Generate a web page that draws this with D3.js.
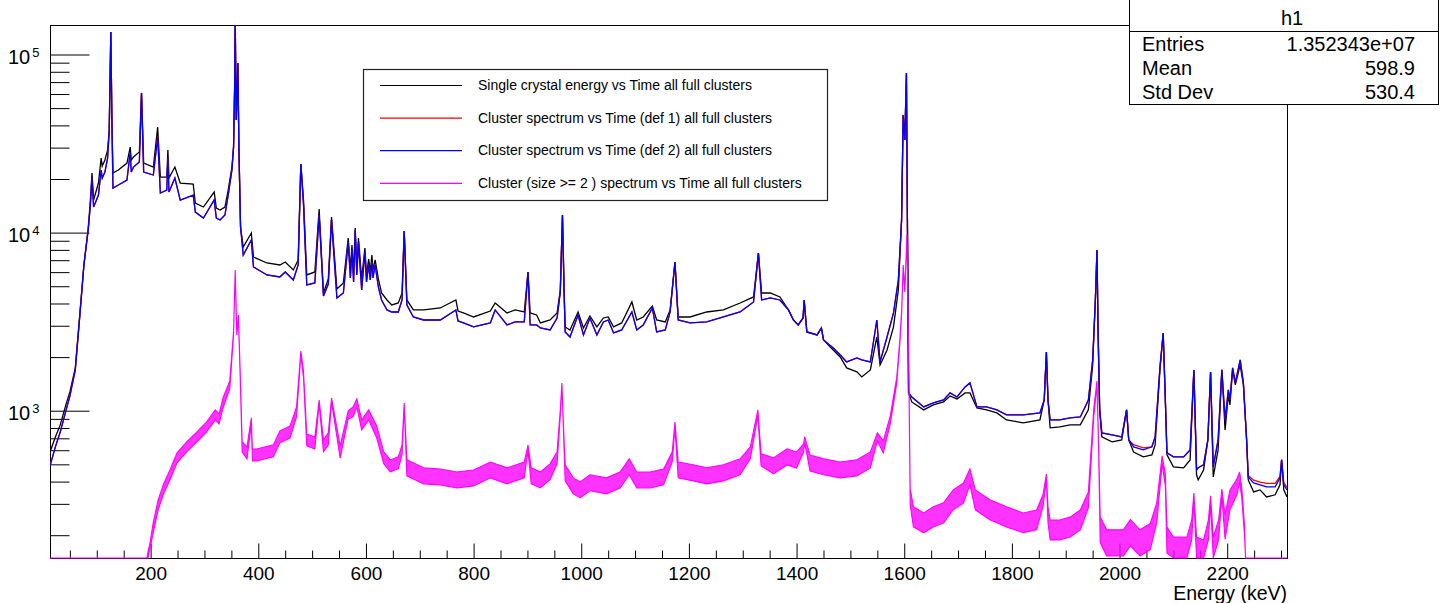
<!DOCTYPE html>
<html>
<head>
<meta charset="utf-8">
<script src="https://cdn.jsdelivr.net/npm/d3@7"></script>
<style>
  body { margin: 0; background: #fff; }
  svg text { font-family: "Liberation Sans", Arial, Helvetica, sans-serif; }
</style>
</head>
<body>
<div id="chart"></div>
<script>
// energy bins (keV) shared by the three full-cluster spectra
var energy = [
  14,24,33,44,51,61,70,77,85,89,
  92,95,104,109,111,116,121,124,127,129,
  131,141,157,163,165,169,180,184,188,206,
  214,219,231,233,235,246,256,280,284,299,
  319,323,330,339,345,352,355,357,358,360,
  363,365,368,373,388,392,417,441,451,466,
  475,480,485,491,506,514,522,531,537,547,
  559,568,572,575,578,581,584,587,593,599,
  602,606,609,612,614,618,624,630,640,649,
  661,668,672,677,689,708,739,768,772,782,
  801,832,841,863,878,895,902,906,918,925,
  943,956,962,966,969,971,980,995,1005,1017,
  1030,1042,1051,1061,1076,1095,1104,1116,1133,1141,
  1157,1166,1175,1181,1203,1234,1265,1296,1321,1330,
  1336,1352,1370,1386,1395,1404,1413,1415,1420,1439,
  1447,1451,1469,1482,1494,1513,1522,1538,1550,1556,
  1569,1581,1590,1596,1599,1602,1605,1609,1615,1637,
  1655,1674,1686,1699,1714,1723,1736,1754,1773,1791,
  1822,1853,1861,1865,1868,1872,1890,1909,1928,1943,
  1951,1956,1959,1961,1964,1968,1987,2005,2014,2018,
  2027,2045,2061,2067,2076,2082,2086,2089,2101,2120,
  2132,2139,2144,2147,2157,2165,2170,2175,2184,2191,
  2197,2203,2206,2211,2216,2225,2231,2237,2240,2250,
  2262,2274,2290,2299,2302,2306,2312
];

// Single crystal energy vs Time (black)
var singleCrystal = [
  583,708,827,1085,1267,1728,3655,6540,10540,15140,
  21470,15140,18860,26050,23490,25390,28890,37410,132700,42570,
  21470,22310,24420,30030,25390,26390,28150,60340,24420,23190,
  38890,20380,20380,28890,20120,23190,18860,18620,14570,13830,
  16790,13650,13300,13830,17230,23190,30030,65200,160000,42570,
  88900,28890,10680,8250,9885,7250,6710,6540,6797,6130,
  6975,24110,15140,5746,5974,13480,4552,5456,12150,4794,
  5181,9266,6130,8466,5746,10540,6130,9266,5456,8145,
  5746,7066,5974,7440,6130,6975,5456,4552,4159,3898,
  4000,4552,10140,4159,3655,3655,3750,4159,3607,3516,
  3338,3607,4000,3516,3655,3561,5974,3516,3426,3090,
  3211,3516,4732,12470,4732,2935,2822,3561,2896,3382,
  2935,3296,3338,2935,3090,4053,3211,3338,3848,3211,
  3130,3655,6797,3338,3338,3561,3655,4000,4324,7633,
  4552,4552,4324,3655,3211,3011,3296,4159,2750,2646,
  2896,2480,2180,1991,1728,1641,1538,1684,2578,1796,
  2180,2935,4732,11690,45400,32880,78100,1251,1113,1004,
  1071,1113,1203,1157,1251,1251,1030,1004,966,882,
  849,882,1142,2124,1142,796,806,827,827,1004,
  1796,4159,7935,2822,1004,708,664,681,1004,681,
  583,547,561,639,1684,2715,1142,561,481,475,
  526,1684,434,406,462,681,1641,422,599,1684,
  775,1219,1071,1684,1387,1796,1387,681,406,348,
  357,326,335,381,526,357,326
];

// Cluster spectrum vs Time (def 1) (red)
var clusterDef1 = [
  487,623,755,1004,1203,1684,3561,6540,10270,14200,
  20120,13830,16150,22310,20120,21740,26050,36450,132700,42570,
  17680,18380,19610,28150,21740,23190,24740,60340,21740,20920,
  34180,16580,17230,26050,16790,20120,15140,16150,12960,12000,
  15140,12000,11690,12470,16150,22310,30030,65200,160000,42570,
  88900,28890,10680,7440,9030,6372,5746,5598,5974,5386,
  6540,24110,14200,5048,5181,12470,4380,5114,11690,4268,
  4552,8800,5527,7935,5248,10270,5746,8800,4732,7732,
  5248,6540,5386,6797,5527,6540,4920,4159,3655,3561,
  3561,4159,10140,3898,3338,3211,3211,3655,3170,3090,
  2935,3090,3655,3011,3130,3130,5974,3011,3011,2896,
  2822,3296,4611,12470,4732,2750,2578,3426,2646,3296,
  2646,3130,3211,2715,2822,3561,2822,3011,3750,2750,
  2822,3561,6797,3211,3090,3130,3338,3561,4053,7633,
  4159,4268,4159,3655,3211,3011,3296,4159,2750,2646,
  2896,2480,2236,2043,1867,1966,1916,1867,3211,1867,
  2578,3516,5386,11690,45400,32880,78100,1251,1187,1043,
  1099,1142,1251,1187,1351,1423,1043,1043,1004,941,
  941,966,1142,2124,1142,882,882,905,917,1142,
  1916,4159,7935,2822,1004,746,727,708,1004,681,
  640,615,623,708,1750,2715,1142,576,547,547,
  599,1684,462,475,493,681,1641,481,681,1684,
  882,1300,1142,1728,1423,1916,1423,681,430,405,
  395,388,388,425,526,392,368
];

// Cluster spectrum vs Time (def 2) (blue)
var clusterDef2 = [
  487,623,755,1004,1203,1684,3561,6540,10270,14200,
  20120,13830,16150,22310,20120,21740,26050,36450,132700,42570,
  17680,18380,19610,28150,21740,23190,24740,60340,21740,20920,
  34180,16580,17230,26050,16790,20120,15140,16150,12960,12000,
  15140,12000,11690,12470,16150,22310,30030,65200,160000,42570,
  88900,28890,10680,7440,9030,6372,5746,5598,5974,5386,
  6540,24110,14200,5048,5181,12470,4380,5114,11690,4268,
  4552,8800,5527,7935,5248,10270,5746,8800,4732,7732,
  5248,6540,5386,6797,5527,6540,4920,4159,3655,3561,
  3561,4159,10140,3898,3338,3211,3211,3655,3170,3090,
  2935,3090,3655,3011,3130,3130,5974,3011,3011,2896,
  2822,3296,4611,12470,4732,2750,2578,3426,2646,3296,
  2646,3130,3211,2715,2822,3561,2822,3011,3750,2750,
  2822,3561,6797,3211,3090,3130,3338,3561,4053,7633,
  4159,4268,4159,3655,3211,3011,3296,4159,2750,2646,
  2896,2480,2236,2043,1867,1966,1916,1867,3211,1867,
  2578,3516,5386,11690,45400,32880,78100,1251,1187,1043,
  1099,1142,1251,1187,1351,1423,1043,1043,1004,941,
  941,966,1142,2124,1142,882,882,905,917,1142,
  1916,4159,7935,2822,1004,746,727,708,1004,681,
  623,599,623,708,1750,2715,1142,576,547,547,
  599,1684,462,475,493,681,1641,481,681,1684,
  882,1300,1142,1728,1423,1916,1423,681,422,391,
  381,371,371,417,526,381,357
];

// Cluster (size >= 2) spectrum (magenta): energies and noise band low / high
var size2Energy = [
  14,194,196,200,206,215,225,237,250,268,
  287,305,321,328,336,348,355,358,361,364,
  367,371,380,388,390,398,429,441,460,472,
  480,485,491,506,514,522,531,537,553,568,
  577,584,593,606,621,634,646,661,668,672,
  677,708,739,770,801,832,863,895,902,908,
  925,943,956,962,965,968,971,986,999,1017,
  1048,1073,1090,1104,1129,1154,1170,1175,1181,1209,
  1234,1265,1296,1315,1329,1335,1358,1383,1401,1414,
  1416,1426,1451,1482,1513,1538,1551,1562,1575,1587,
  1593,1596,1599,1602,1606,1609,1612,1618,1637,1655,
  1674,1692,1711,1723,1733,1760,1791,1822,1847,1859,
  1865,1868,1872,1890,1909,1928,1943,1953,1959,1962,
  1965,1977,2008,2021,2039,2058,2070,2080,2086,2089,
  2101,2126,2135,2139,2144,2157,2166,2170,2175,2185,
  2191,2197,2206,2219,2224,2228,2233,2235,2312
];
var size2Low = [
  0,0,148,168,207,276,339,407,506,584,
  664,755,882,838,1043,1317,2646,5823,2646,3253,
  1663,583,533,838,519,519,547,656,698,917,
  2044,1519,630,606,1085,584,638,1113,539,894,
  917,1044,775,882,698,500,451,468,561,1044,
  428,386,381,366,376,417,386,417,591,386,
  366,407,500,930,1352,746,401,339,322,353,
  339,366,434,366,366,381,513,796,417,401,
  386,401,434,533,930,487,439,493,474,583,
  655,456,434,417,428,474,672,576,838,1413,
  2417,3427,6210,4612,9149,2209,294,221,205,221,
  233,276,301,381,276,243,221,205,213,290,
  406,234,187,187,194,213,283,917,1387,606,
  180,152,152,173,152,165,233,500,376,158,
  139,139,187,310,139,134,187,298,139,187,
  326,189,276,335,396,321,200,0,0
];
var size2High = [
  0,0,160,182,236,314,386,463,576,665,
  756,860,1004,954,1188,1461,2786,6129,2786,3425,
  1795,664,623,905,606,606,639,766,816,1044,
  2152,1640,736,708,1142,682,746,1172,630,991,
  1044,1157,882,1004,816,584,526,547,639,1099,
  527,475,468,450,462,512,475,512,638,475,
  450,500,584,1004,1423,805,494,417,396,434,
  417,450,533,450,450,468,584,859,512,494,
  475,494,533,623,1004,569,540,607,583,647,
  708,561,533,512,527,583,746,673,929,1525,
  2544,3607,6538,4855,9631,2325,362,287,265,287,
  302,357,390,468,357,314,287,265,275,339,
  438,287,242,242,251,275,348,1017,1460,655,
  252,213,213,243,213,231,302,554,439,221,
  194,194,242,343,194,187,242,331,194,242,
  361,258,357,411,450,366,227,148,0
];

// axis ticks and labels
var xMajorTicks = [200, 400, 600, 800, 1000, 1200, 1400, 1600, 1800, 2000, 2200];
var yDecades = [1000, 10000, 100000];
var yDecadeLabels = ["3", "4", "5"];
var xTitle = "Energy (keV)";

var legendLabels = [
  "Single crystal energy vs Time all full clusters",
  "Cluster spectrum vs Time (def 1) all full clusters",
  "Cluster spectrum vs Time (def 2) all full clusters",
  "Cluster (size >= 2 ) spectrum vs Time all full clusters"
];
var legendColors = ["#000000", "#ff0000", "#0000ff", "#ff00ff"];

var statsTitle = "h1";
var statsNames = ["Entries", "Mean", "Std Dev"];
var statsValues = ["1.352343e+07", "598.9", "530.4"];

// set graph dimensions
var svgWidth = 1441;
var svgHeight = 603;
var frame = { left: 50, right: 1287, top: 25, bottom: 558 };
var xMin = 14, xMax = 2312, yMin = 148, yMax = 145500;

var svg = d3.select('#chart')
  .append('svg')
  .attr('width', svgWidth)
  .attr('height', svgHeight);

var xScale = d3.scaleLinear().domain([xMin, xMax]).range([frame.left, frame.right]);
var yScale = d3.scaleLog().domain([yMin, yMax]).range([frame.bottom, frame.top]);

function yPos(v) { return yScale(Math.max(v, yMin)); }

svg.append('clipPath').attr('id', 'plotclip')
  .append('rect')
  .attr('x', frame.left).attr('y', frame.top)
  .attr('width', frame.right - frame.left)
  .attr('height', frame.bottom - frame.top + 1.5);

// frame
svg.append('rect')
  .attr('x', frame.left + 0.5).attr('y', frame.top + 0.5)
  .attr('width', frame.right - frame.left).attr('height', frame.bottom - frame.top)
  .attr('fill', 'none').attr('stroke', '#000').attr('stroke-width', 1);

// x axis ticks
var xMinor = d3.range(50, 2301, 50).filter(v => v % 200 !== 0);
var gxMinor = svg.append('g')
  .attr('transform', `translate(0.5, ${frame.bottom + 0.5})`)
  .call(d3.axisBottom(xScale).tickValues(xMinor).tickSize(-8).tickFormat(''));
var gx = svg.append('g')
  .attr('transform', `translate(0.5, ${frame.bottom + 0.5})`)
  .call(d3.axisBottom(xScale).tickValues(xMajorTicks).tickSize(-15).tickPadding(8.5).tickFormat(d3.format('d')));
[gxMinor, gx].forEach(function(g) {
  g.select('.domain').remove();
  g.selectAll('line').attr('stroke', '#000');
});
gx.attr('font-size', 19).attr('font-family', null);
gx.selectAll('text').attr('fill', '#000');

svg.append('text')
  .attr('x', frame.right)
  .attr('y', 600)
  .attr('text-anchor', 'end')
  .attr('font-size', 19.5)
  .text(xTitle);

// y axis ticks
var yMinor = [];
[100, 1000, 10000].forEach(function(dec) {
  for (var k = 2; k <= 9; k++) yMinor.push(dec * k);
});
var gyMinor = svg.append('g')
  .attr('transform', `translate(${frame.left + 0.5}, 0.5)`)
  .call(d3.axisLeft(yScale).tickValues(yMinor).tickSize(-19).tickFormat(''));
var gy = svg.append('g')
  .attr('transform', `translate(${frame.left + 0.5}, 0.5)`)
  .call(d3.axisLeft(yScale).tickValues(yDecades).tickSize(-39).tickFormat(''));
[gyMinor, gy].forEach(function(g) {
  g.select('.domain').remove();
  g.selectAll('line').attr('stroke', '#000');
});

var yLabels = svg.selectAll('.ylab')
  .data(yDecades)
  .enter()
  .append('text')
  .attr('class', 'ylab')
  .attr('x', 8)
  .attr('y', d => yScale(d) + 9.5)
  .attr('font-size', 20);
yLabels.append('tspan').text('10');
yLabels.append('tspan')
  .attr('dx', 2)
  .attr('dy', -7)
  .attr('font-size', 13)
  .text((d, i) => yDecadeLabels[i]);

// spectra
var plot = svg.append('g').attr('clip-path', 'url(#plotclip)');

var spectrumLine = d3.line()
  .x((d, i) => xScale(energy[i]))
  .y(d => yPos(d));

[[singleCrystal, legendColors[0]], [clusterDef1, legendColors[1]], [clusterDef2, legendColors[2]]]
  .forEach(function(s) {
    plot.append('path')
      .attr('d', spectrumLine(s[0]))
      .attr('fill', 'none')
      .attr('stroke', s[1])
      .attr('stroke-width', 1.3)
      .attr('stroke-linejoin', 'miter');
  });

var size2Area = d3.area()
  .x((d, i) => xScale(size2Energy[i]))
  .y0((d, i) => yPos(size2Low[i]))
  .y1((d, i) => yPos(size2High[i]));

plot.append('path')
  .attr('d', size2Area(size2Energy))
  .attr('fill', legendColors[3])
  .attr('fill-opacity', 0.8)
  .attr('stroke', legendColors[3])
  .attr('stroke-width', 1.1);

// legend
var legend = svg.append('g');
legend.append('rect')
  .attr('x', 363.5).attr('y', 69.5)
  .attr('width', 464).attr('height', 131)
  .attr('fill', '#fff').attr('stroke', '#222').attr('stroke-width', 1.2);

var rows = legend.selectAll('g.row')
  .data(legendLabels)
  .enter()
  .append('g')
  .attr('class', 'row')
  .attr('transform', (d, i) => `translate(0, ${85 + i * 32.6})`);
rows.append('line')
  .attr('x1', 380).attr('x2', 462)
  .attr('y1', 0.5).attr('y2', 0.5)
  .attr('stroke', (d, i) => legendColors[i])
  .attr('stroke-width', 1.2);
rows.append('text')
  .attr('x', 478)
  .attr('y', 5)
  .attr('font-size', 14)
  .attr('fill', '#000')
  .text(d => d);

// stats box
var stats = svg.append('g');
stats.append('rect')
  .attr('x', 1129.5).attr('y', -1)
  .attr('width', 309).attr('height', 105.5)
  .attr('fill', '#fff').attr('stroke', '#000').attr('stroke-width', 1);
stats.append('line')
  .attr('x1', 1129.5).attr('x2', 1438.5)
  .attr('y1', 31.5).attr('y2', 31.5)
  .attr('stroke', '#000');
stats.append('text')
  .attr('x', 1292).attr('y', 25)
  .attr('text-anchor', 'middle')
  .attr('font-size', 20)
  .text(statsTitle);
statsNames.forEach(function(name, i) {
  stats.append('text')
    .attr('x', 1142).attr('y', 51 + i * 24)
    .attr('font-size', 20)
    .text(name);
  stats.append('text')
    .attr('x', 1415).attr('y', 51 + i * 24)
    .attr('text-anchor', 'end')
    .attr('font-size', 20)
    .text(statsValues[i]);
});
</script>
</body>
</html>
